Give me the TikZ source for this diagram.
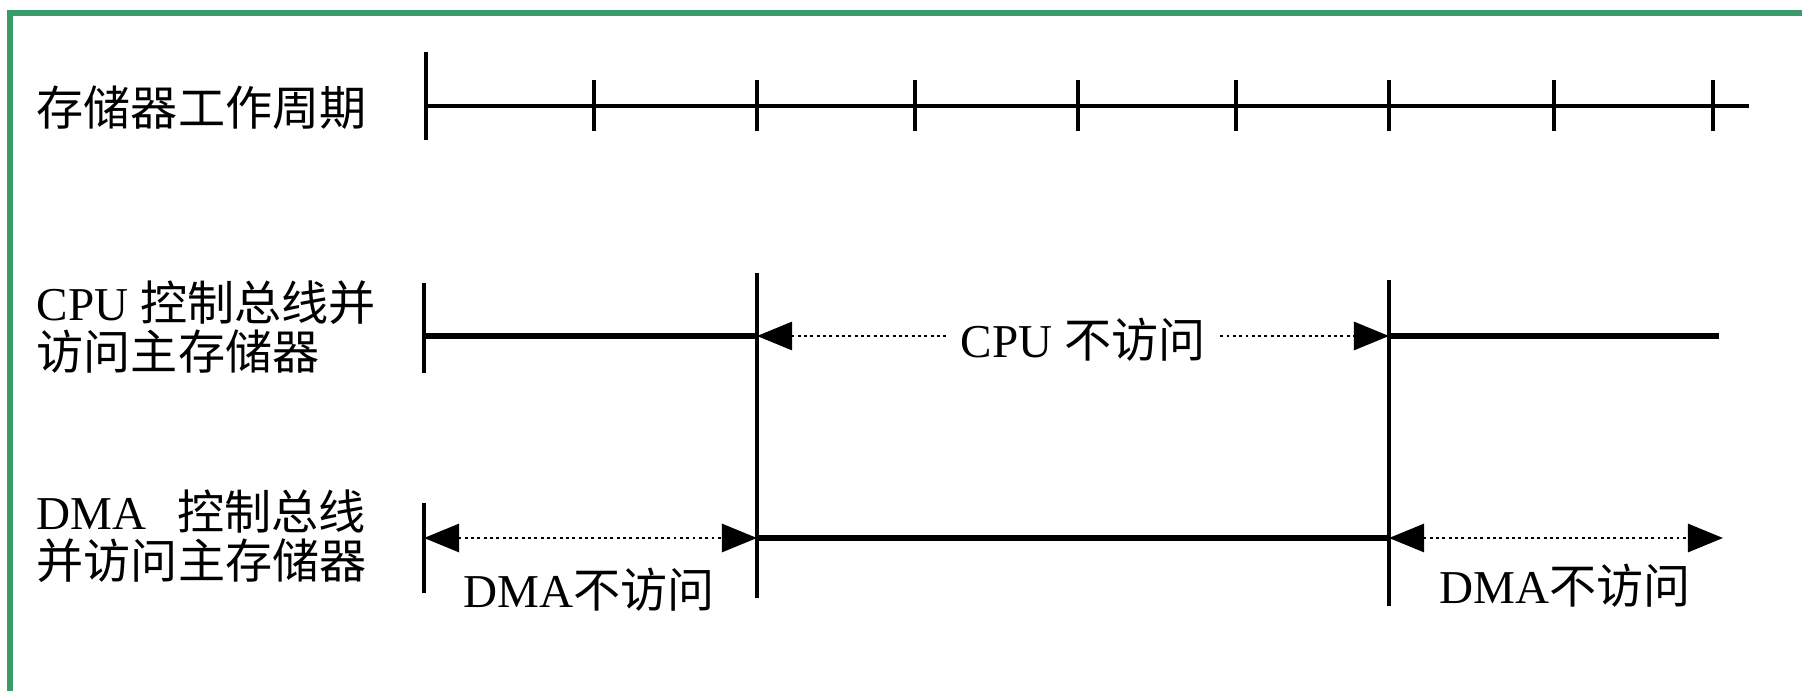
\documentclass[tikz,border=0pt]{standalone}
\usepackage{fontspec}
\setmainfont{Liberation Serif}
\newfontfamily\cjk{Noto Sans CJK SC}
\usetikzlibrary{arrows.meta}
\definecolor{frameGreen}{RGB}{56,155,104}
\newcommand\zh[1]{{\cjk #1}}
\tikzset{
  lbl/.style={font=\fontsize{13.4pt}{14pt}\selectfont, inner sep=0pt, align=left},
  axis/.style={line width=1pt},
  busline/.style={line width=1.7pt},
  gapline/.style={line width=0.8pt, densely dotted}
}
\begin{document}
\begin{tikzpicture}[x=0.01cm, y=-0.01cm, >={Triangle[length=10pt,width=8pt]}]
\useasboundingbox (0,0) rectangle (1802,691);
\draw[frameGreen, line width=1.8pt] (1802,13) -- (10,13) -- (10,691);

\node[lbl, anchor=west] (cycle) at (36,108) {\zh{存储器工作周期}};
\node[lbl, anchor=west] (cpu) at (36,327) {CPU \zh{控制总线并}\\\zh{访问主存储器}};
\node[lbl, anchor=west] (dma) at (36,536) {DMA\hspace{0.65em}\zh{控制总线}\\\zh{并访问主存储器}};

\draw[axis] (426,106) -- (1749,106);
\draw[axis] (426,52) -- (426,140);
\foreach \x in {594,757,915,1078,1236,1389,1554,1713}
  \draw[axis] (\x,80) -- (\x,131);

\coordinate (cpuA) at (424,336);
\coordinate (cpuL) at (757,336);
\coordinate (cpuR) at (1389,336);
\coordinate (cpuB) at (1719,336);
\coordinate (dmaL) at (424,538);
\coordinate (dmaM) at (757,538);
\coordinate (dmaN) at (1389,538);
\coordinate (dmaR) at (1723,538);

\draw[axis] (424,283) -- (424,373);
\draw[axis] (424,503) -- (424,593);
\draw[axis] (757,273) -- (757,598);
\draw[axis] (1389,280) -- (1389,606);

\draw[busline] (cpuA) -- (cpuL);
\draw[busline] (cpuR) -- (cpuB);
\node[lbl, inner sep=4pt] (cpuNo) at (1083,340) {CPU \zh{不访问}};
\draw[gapline, <-] (cpuL) -- (cpuNo.west |- cpuL);
\draw[gapline, ->] (cpuNo.east |- cpuR) -- (cpuR);

\draw[gapline, <->] (dmaL) -- (dmaM);
\draw[busline] (dmaM) -- (dmaN);
\draw[gapline, <->] (dmaN) -- (dmaR);
\node[lbl] (dmaNo1) at (589,590) {DMA\zh{不访问}};
\node[lbl] (dmaNo2) at (1565,586) {DMA\zh{不访问}};
\end{tikzpicture}
\end{document}
